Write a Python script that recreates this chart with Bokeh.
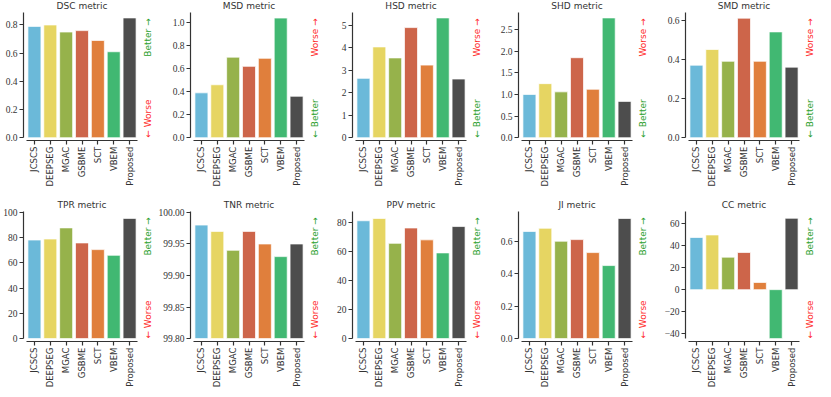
import math
from bokeh.plotting import figure
from bokeh.layouts import row, column
from bokeh.models import Range1d, FixedTicker, Label, ColumnDataSource
from bokeh.embed import file_html
from bokeh.resources import INLINE

# ---------------- data ----------------
methods = ["JCSCS", "DEEPSEG", "MGAC", "GSBME", "SCT", "VBEM", "Proposed"]
colors = ["#6bb9d9", "#e6d562", "#96b24b", "#cd654a", "#e07f3c", "#41b872", "#4d4d4d"]

dsc = [0.79, 0.80, 0.75, 0.76, 0.69, 0.61, 0.85]
msd = [0.39, 0.46, 0.70, 0.62, 0.69, 1.04, 0.36]
hsd = [2.64, 4.04, 3.55, 4.90, 3.23, 5.33, 2.61]
shd = [1.00, 1.25, 1.06, 1.85, 1.12, 2.77, 0.84]
smd = [0.37, 0.45, 0.39, 0.61, 0.39, 0.54, 0.36]
tpr = [78.0, 78.8, 87.6, 75.7, 70.4, 65.9, 95.1]
tnr = [99.98, 99.97, 99.94, 99.97, 99.95, 99.93, 99.95]
ppv = [81.4, 83.0, 65.8, 76.4, 68.2, 59.2, 77.4]
ji = [0.66, 0.68, 0.60, 0.61, 0.53, 0.45, 0.74]
cc = [47.2, 49.5, 29.4, 33.6, 6.5, -44.3, 64.6]

titles = ["DSC metric", "MSD metric", "HSD metric", "SHD metric", "SMD metric",
          "TPR metric", "TNR metric", "PPV metric", "JI metric", "CC metric"]
series = [dsc, msd, hsd, shd, smd, tpr, tnr, ppv, ji, cc]
higher_is_better = [True, False, False, False, False, True, True, True, True, True]
baselines = [0, 0, 0, 0, 0, 0, 99.80, 0, 0, 0]
ylims = [(0, 0.89), (0, 1.09), (0, 5.58), (0, 2.90), (0, 0.64),
         (0, 100.8), (99.80, 100.002), (0, 88.0), (0, 0.785), (-44.3, 71.0)]

dsc_ticks = [0.0, 0.2, 0.4, 0.6, 0.8]
dsc_labels = ["0.0", "0.2", "0.4", "0.6", "0.8"]
msd_ticks = [0.0, 0.2, 0.4, 0.6, 0.8, 1.0]
msd_labels = ["0.0", "0.2", "0.4", "0.6", "0.8", "1.0"]
hsd_ticks = [0, 1, 2, 3, 4, 5]
hsd_labels = ["0", "1", "2", "3", "4", "5"]
shd_ticks = [0.0, 0.5, 1.0, 1.5, 2.0, 2.5]
shd_labels = ["0.0", "0.5", "1.0", "1.5", "2.0", "2.5"]
smd_ticks = [0.0, 0.2, 0.4, 0.6]
smd_labels = ["0.0", "0.2", "0.4", "0.6"]
tpr_ticks = [0, 20, 40, 60, 80, 100]
tpr_labels = ["0", "20", "40", "60", "80", "100"]
tnr_ticks = [99.80, 99.85, 99.90, 99.95, 100.00]
tnr_labels = ["99.80", "99.85", "99.90", "99.95", "100.00"]
ppv_ticks = [0, 20, 40, 60, 80]
ppv_labels = ["0", "20", "40", "60", "80"]
ji_ticks = [0.0, 0.2, 0.4, 0.6]
ji_labels = ["0.0", "0.2", "0.4", "0.6"]
cc_ticks = [-40, -20, 0, 20, 40, 60]
cc_labels = ["\u221240", "\u221220", "0", "20", "40", "60"]

ticks = [dsc_ticks, msd_ticks, hsd_ticks, shd_ticks, smd_ticks,
         tpr_ticks, tnr_ticks, ppv_ticks, ji_ticks, cc_ticks]
tick_labels = [dsc_labels, msd_labels, hsd_labels, shd_labels, smd_labels,
               tpr_labels, tnr_labels, ppv_labels, ji_labels, cc_labels]

# ---------------- layout ----------------
FW = 114
row_H = [196, 193]
TXT = 16          # extra frame room on the right for Better/Worse notes
col_borders = [(23, 18), (35, 27), (21, 29), (23, 28), (25, 16)]
# per-row vertical positions inside each canvas (px from top): title, axes top, bar base
row_pos = [(5.0, 11.8, 137.2), (8.0, 14.7, 142.1)]
OFF = 3  # spine offset in px
GREEN = "#2ca02c"
RED = "#ff2b2b"
AX = "#333333"


def make(i):
    vals = series[i]
    bl, br = col_borders[i % 5]
    H = row_H[i // 5]
    ty, top_y, base_y = row_pos[i // 5]
    lo, hi = ylims[i]
    n = len(methods)
    ppu = (FW - OFF) / n
    xlo = -0.5 - OFF / ppu
    xhi = n - 0.5 + TXT / ppu
    k = (hi - lo) / (base_y - top_y)          # data units per px
    y_end = hi + k * top_y
    y_start = lo - k * (H - base_y)
    p = figure(width=bl + FW + br, height=H,
               x_range=Range1d(xlo, xhi), y_range=Range1d(y_start, y_end),
               output_backend="svg", toolbar_location=None,
               min_border_left=bl, min_border_right=br - TXT,
               min_border_top=0, min_border_bottom=0)
    p.outline_line_color = None
    p.xgrid.visible = False
    p.ygrid.visible = False
    p.background_fill_color = "white"
    p.border_fill_color = "white"

    src = ColumnDataSource(dict(x=list(range(n)), top=vals,
                                bottom=[baselines[i]] * n, color=colors))
    p.vbar(x="x", top="top", bottom="bottom", width=0.82, source=src,
           fill_color="color", line_color="white", line_alpha=0.7, line_width=1)

    xa = p.xaxis[0]
    xa.ticker = FixedTicker(ticks=list(range(n)))
    xa.major_label_overrides = {j: m for j, m in enumerate(methods)}
    xa.major_label_orientation = math.pi / 2
    xa.bounds = (-0.5, n - 0.5)
    xa.fixed_location = lo - OFF * k
    ya = p.yaxis[0]
    ya.ticker = FixedTicker(ticks=ticks[i])
    ya.major_label_overrides = {t: s for t, s in zip(ticks[i], tick_labels[i])}
    ya.bounds = (lo, hi)
    for ax, font, size, sto in ((xa, "DejaVu Sans", "8.5px", 2),
                                (ya, "Liberation Serif", "9.5px", 2)):
        ax.axis_line_color = AX
        ax.axis_line_width = 1.2
        ax.major_tick_line_color = AX
        ax.major_tick_line_width = 1.2
        ax.major_tick_out = 4
        ax.major_tick_in = 0
        ax.minor_tick_line_color = None
        ax.major_label_text_font = font
        ax.major_label_text_font_size = size
        ax.major_label_text_color = "#333333"
        ax.major_label_standoff = sto

    # title
    p.add_layout(Label(x=(n - 1) / 2, y=hi + k * (top_y - ty), text=titles[i],
                       text_align="center", text_baseline="middle",
                       text_font="DejaVu Sans", text_font_size="9px",
                       text_color="#333333"))

    xt = n - 0.5 + 10.5 / ppu
    if higher_is_better[i]:
        top_txt, top_col, bot_txt, bot_col = "Better \u2192", GREEN, "\u2190 Worse", RED
    else:
        top_txt, top_col, bot_txt, bot_col = "Worse \u2192", RED, "\u2190 Better", GREEN
    p.add_layout(Label(x=xt, y=hi - 6 * k, text=top_txt, angle=math.pi / 2,
                       text_align="right", text_baseline="middle",
                       text_font="DejaVu Sans", text_font_size="9px",
                       text_color=top_col))
    p.add_layout(Label(x=xt, y=lo, text=bot_txt, angle=math.pi / 2,
                       text_align="left", text_baseline="middle",
                       text_font="DejaVu Sans", text_font_size="9px",
                       text_color=bot_col))
    return p


figs = [make(i) for i in range(10)]
layout = column(row(*figs[:5], spacing=0), row(*figs[5:], spacing=0), spacing=0)

open("out.html", "w").write(file_html(layout, INLINE))
